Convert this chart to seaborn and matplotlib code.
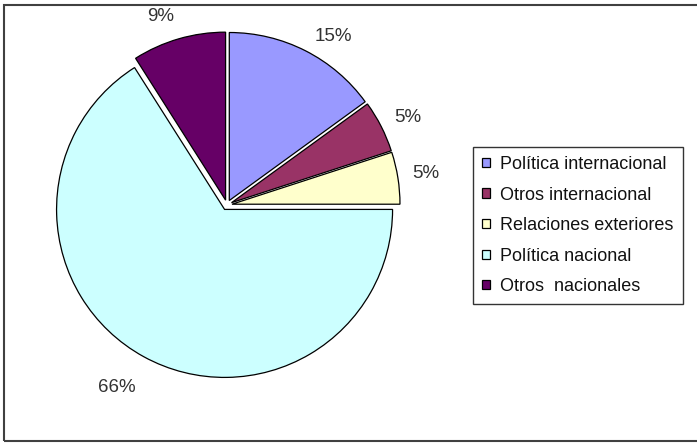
import numpy as np
import matplotlib
matplotlib.use("Agg")
import matplotlib.pyplot as plt
from matplotlib.patches import Rectangle
import seaborn as sns

# Topic shares (percent), clockwise from 12 o'clock
categories = [
    "Política internacional",
    "Otros internacional",
    "Relaciones exteriores",
    "Política nacional",
    "Otros  nacionales",
]
shares = [15, 5, 5, 66, 9]
slice_colors = ["#9999FF", "#993366", "#FFFFCC", "#CCFFFF", "#660066"]

# label placement: angular nudge (deg) and radial distance (x radius)
label_nudge = [-5.0, -0.5, 0.5, -2.5, 3.0]
label_dist = [1.2, 1.2, 1.2, 1.26, 1.2]

sns.set_theme(style="white")
plt.rcParams["font.family"] = ["Liberation Sans", "DejaVu Sans"]

W, H = 697, 444
fig = plt.figure(figsize=(W / 100, H / 100), dpi=100)
fig.patch.set_facecolor("white")
ax = fig.add_axes([0, 0, 1, 1])

palette = sns.color_palette(slice_colors)
wedges, _ = ax.pie(
    shares,
    colors=palette,
    startangle=90,
    counterclock=False,
    explode=[0.03] * len(shares),
    wedgeprops=dict(edgecolor="black", linewidth=0.9),
)

# percentage labels outside each wedge
total = sum(shares)
for w, val, nudge, dist in zip(wedges, shares, label_nudge, label_dist):
    mid = np.deg2rad(0.5 * (w.theta1 + w.theta2) + nudge)
    ax.text(dist * np.cos(mid), dist * np.sin(mid) - 0.012,
            f"{100 * val / total:.0f}%",
            ha="center", va="center", fontsize=13.5, color="#333333")

# pie radius = 168 px, centre at (227, 205) px from the top-left corner
R, cx, cy = 168.0, 227.0, 205.0
ax.set_xlim(-cx / R, (W - cx) / R)
ax.set_ylim(-(H - cy) / R, cy / R)
ax.set_aspect("equal")
ax.axis("off")

leg = ax.legend(
    wedges,
    categories,
    loc="upper left",
    bbox_to_anchor=(473 / W, 1 - 147 / H),
    bbox_transform=fig.transFigure,
    frameon=True,
    fancybox=False,
    edgecolor="black",
    fontsize=13,
    handlelength=0.42,
    handleheight=0.42,
    handletextpad=0.6,
    labelspacing=0.75,
    borderpad=0.5,
    borderaxespad=0,
)
leg.get_frame().set_linewidth(1.0)
for t in leg.get_texts():
    t.set_color("#111111")

# outer chart border
fig.patches.append(
    Rectangle((4 / W, 3 / H), 1.2, 1 - 8 / H, transform=fig.transFigure,
              fill=False, edgecolor="#404040", linewidth=1.5)
)

fig.savefig("out.png", dpi=100)
